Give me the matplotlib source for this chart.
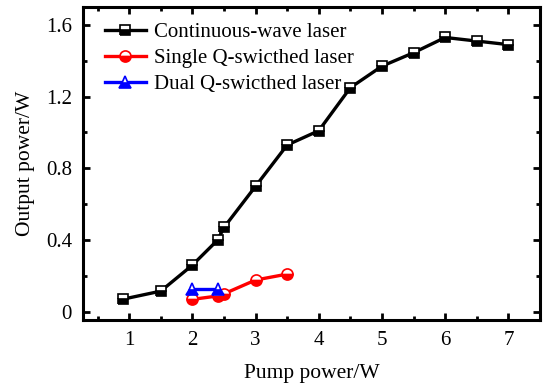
import matplotlib
matplotlib.use("Agg")
import matplotlib.pyplot as plt
from matplotlib.ticker import MultipleLocator

plt.rcParams['font.family'] = ['Liberation Serif', 'DejaVu Serif']
plt.rcParams['mathtext.fontset'] = 'stix'

cw_x = [0.9, 1.5, 2.0, 2.4, 2.5, 3.0, 3.5, 4.0, 4.5, 5.0, 5.5, 6.0, 6.5, 7.0]
cw_y = [0.07, 0.115, 0.26, 0.40, 0.47, 0.70, 0.93, 1.01, 1.25, 1.37, 1.445, 1.53, 1.51, 1.49]
sq_x = [2.0, 2.4, 2.5, 3.0, 3.5]
sq_y = [0.069, 0.088, 0.10, 0.177, 0.21]
dq_x = [2.0, 2.4]
dq_y = [0.128, 0.128]

labels = ["Continuous-wave laser", "Single Q-swicthed laser", "Dual Q-swicthed laser"]

fig = plt.figure(figsize=(5.59, 3.87), dpi=100)
ax = fig.add_axes([83/559, 1-320/387, (540-83)/559, (320-7)/387])

mk = dict(lw=2.4, fillstyle='bottom', markerfacecoloralt='white', markeredgewidth=1.2)
ax.plot(cw_x, cw_y, marker='s', ms=7, color='black', markerfacecolor='black', markeredgecolor='black', label=labels[0], **mk)
ax.plot(sq_x, sq_y, marker='o', ms=8, color='red', markerfacecolor='red', markeredgecolor='red', label=labels[1], **mk)
ax.plot(dq_x, dq_y, marker='^', ms=8, color='blue', markerfacecolor='blue', markeredgecolor='blue', label=labels[2], **mk)

ax.set_xlim(0.27, 7.5)
ax.set_ylim(-0.046, 1.70)
ax.xaxis.set_major_locator(MultipleLocator(1))
ax.xaxis.set_minor_locator(MultipleLocator(0.5))
ax.yaxis.set_minor_locator(MultipleLocator(0.2))
ax.set_yticks([0, 0.4, 0.8, 1.2, 1.6])
ax.set_yticklabels(['0', '0.4', '0.8', '1.2', '1.6'])
ax.tick_params(which='both', direction='in', top=True, right=True, labelsize=15, width=2)
ax.tick_params(which='major', length=5, pad=8)
ax.tick_params(which='minor', length=3)
for s in ax.spines.values():
    s.set_linewidth(2.2)

ax.set_xlabel("Pump power/W", fontsize=15.5, labelpad=10)
ax.set_ylabel("Output power/W", fontsize=15.5, labelpad=8)

leg = ax.legend(loc='upper left', frameon=False, fontsize=15, handlelength=2.0,
                handletextpad=0.35, labelspacing=0.3, borderaxespad=0.2,
                bbox_to_anchor=(0.02, 0.99))

fig.savefig("out.png", dpi=100)
